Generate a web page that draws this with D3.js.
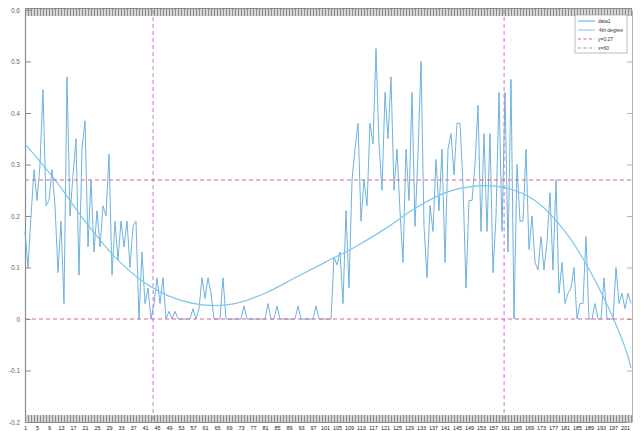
<!DOCTYPE html>
<html>
<head>
<meta charset="utf-8">
<script src="https://cdn.jsdelivr.net/npm/d3@7"></script>
<style>
  html, body { margin: 0; padding: 0; background: #ffffff; overflow: hidden; }
  svg { display: block; font-family: "Liberation Sans", "DejaVu Sans", sans-serif; }
</style>
</head>
<body>
<svg id="chart" width="642" height="431"></svg>
<script>
// Measured signal, one value per sample index
const signal = [
  0.17,0.10,0.20,0.29,0.23,0.30,0.445,0.22,0.23,0.29,
  0.22,0.09,0.19,0.03,0.47,0.20,0.28,0.35,0.085,0.33,
  0.385,0.14,0.27,0.13,0.21,0.14,0.22,0.20,0.32,0.085,
  0.19,0.115,0.19,0.14,0.19,0.10,0.18,0.19,0.0,0.13,
  0.03,0.06,0.0,
  0.03,0.08,0.03,0.08,0.0,0.015,0.0,0.015,0.0,0.0,
  0.0,0.0,0.0,0.02,0.0,0.02,0.08,0.04,0.08,0.05,
  0.0,0.0,0.0,0.08,0.0,0.0,0.0,0.0,0.0,0.0,
  0.025,0.0,0.0,0.0,0.0,0.0,0.0,0.0,0.03,0.0,
  0.0,0.025,0.0,0.0,0.0,0.0,0.0,0.0,0.025,0.0,
  0.0,0.0,0.0,0.0,0.025,0.0,0.0,0.0,0.0,0.0,
  0.12,
  0.105,0.13,0.03,0.21,0.06,0.27,0.33,0.38,0.19,0.27,
  0.22,0.38,0.34,0.525,0.34,0.25,0.44,0.35,0.47,0.25,
  0.33,0.21,0.11,0.33,0.23,0.44,0.18,0.32,0.50,0.18,
  0.08,0.22,0.17,0.31,0.21,0.33,0.11,0.33,0.36,0.28,
  0.38,0.38,0.26,0.06,0.23,0.23,0.30,0.415,0.17,0.36,
  0.17,0.36,0.09,0.20,0.44,0.17,0.44,0.13,0.465,0.0,
  0.30,0.19,0.19,0.33,0.135,0.20,0.11,0.095,0.16,0.095,
  0.15,0.245,0.095,0.27,0.05,0.11,0.03,0.05,0.06,0.10,
  0.0,0.03,0.03,0.16,0.0,0.0,0.03,0.0,0.0,0.08,
  0.0,0.0,0.0,0.10,0.03,0.05,0.02,0.05,0.03
];

// 4th degree polynomial fit, sampled at these indices
const fitIndex = [0,10,20,30,40,50,60,70,80,90,100,110,120,130,140,150,160,170,180,190,200,202];
const fitValue = [0.34,0.27,0.19,0.12,0.07,0.04,0.027,0.03,0.05,0.08,0.11,0.14,0.175,0.215,0.245,0.258,0.255,0.23,0.17,0.075,-0.055,-0.095];

// Reference lines
const hLines = [0.27, 0.0];
const vLines = [42.7, 159.7];

// Axis ticks
const yTicks = [-0.2,-0.1,0,0.1,0.2,0.3,0.4,0.5,0.6];
const yTickLabels = ["-0.2","-0.1","0","0.1","0.2","0.3","0.4","0.5","0.6"];
const xLabelStep = 4;

const legendLabels = ["data1", "4th degree", "y=0.27", "x=60"];

const svg = d3.select("#chart");
const plotLeft = 25, plotRight = 631, plotTop = 10, plotBottom = 422;

const x = d3.scaleLinear().domain([0, signal.length - 1]).range([plotLeft, plotRight]);
const y = d3.scaleLinear().domain([-0.2, 0.6]).range([plotBottom, plotTop]);

const axisColor = "#8c8c8c";
const dataColor = "#5fa9db";
const fitColor = "#7fc6ea";
const hColor = "#e0608a";
const vColor = "#cc72d6";

const idx = d3.range(signal.length);

// shaded strips behind the crowded tick marks
svg.append("rect").attr("x", plotLeft).attr("y", plotTop - 2).attr("width", plotRight - plotLeft).attr("height", 8).attr("fill", "#d6d6d6");
svg.append("rect").attr("x", plotLeft).attr("y", plotBottom - 7).attr("width", plotRight - plotLeft).attr("height", 7).attr("fill", "#d6d6d6");

// top axis: dense inward ticks
const topAxis = svg.append("g").attr("transform", `translate(0,${plotTop - 2})`)
  .call(d3.axisTop(x).tickValues(idx).tickSizeInner(-8).tickSizeOuter(0).tickFormat(""));
topAxis.selectAll("line").attr("stroke", "#8a8a8a");
topAxis.select(".domain").attr("stroke", axisColor);

// bottom axis: dense inward ticks, labels on every few samples
const botAxis = svg.append("g").attr("transform", `translate(0,${plotBottom})`)
  .call(d3.axisBottom(x).tickValues(idx).tickSizeInner(-7).tickSizeOuter(0).tickPadding(5)
    .tickFormat(d => (d % xLabelStep === 0 ? String(d + 1) : "")));
botAxis.selectAll("line").attr("stroke", "#8a8a8a");
botAxis.select(".domain").attr("stroke", axisColor);
botAxis.selectAll("text").attr("font-size", 5.5).attr("fill", "#222").attr("dy", "0.5em");

// left axis
const leftAxis = svg.append("g").attr("transform", `translate(${plotLeft},0)`)
  .call(d3.axisLeft(y).tickValues(yTicks).tickSizeInner(-6).tickSizeOuter(0).tickPadding(5)
    .tickFormat((d, i) => yTickLabels[i]));
leftAxis.select(".domain").attr("stroke", axisColor).attr("stroke-width", 1.2);
leftAxis.selectAll("line").attr("stroke", axisColor);
leftAxis.selectAll("text").attr("font-size", 6.5).attr("fill", "#666");

// right axis
const rightAxis = svg.append("g").attr("transform", `translate(${plotRight + 1},0)`)
  .call(d3.axisRight(y).tickValues(yTicks).tickSizeInner(-5).tickSizeOuter(0).tickFormat(""));
rightAxis.select(".domain").attr("stroke", "#b0b0b0");
rightAxis.selectAll("line").attr("stroke", "#b0b0b0");

const plot = svg.append("g");

// measured signal
plot.append("path")
  .datum(signal)
  .attr("fill", "none")
  .attr("stroke", dataColor)
  .attr("stroke-width", 0.9)
  .attr("d", d3.line().x((d, i) => x(i)).y(d => y(d)));

// fitted curve
plot.append("path")
  .datum(fitIndex.map((v, i) => [v, fitValue[i]]))
  .attr("fill", "none")
  .attr("stroke", fitColor)
  .attr("stroke-width", 1.2)
  .attr("d", d3.line().x(d => x(d[0])).y(d => y(d[1])).curve(d3.curveCatmullRom));

// horizontal reference lines
plot.selectAll(".hline").data(hLines).enter().append("line")
  .attr("x1", plotLeft).attr("x2", plotRight)
  .attr("y1", d => y(d)).attr("y2", d => y(d))
  .attr("stroke", hColor).attr("stroke-width", 1).attr("stroke-dasharray", "4,3");

// vertical reference lines
plot.selectAll(".vline").data(vLines).enter().append("line")
  .attr("x1", d => x(d)).attr("x2", d => x(d))
  .attr("y1", plotTop).attr("y2", plotBottom)
  .attr("stroke", vColor).attr("stroke-width", 1).attr("stroke-dasharray", "4,3");

// legend
const lg = svg.append("g").attr("transform", "translate(575,15)");
lg.append("rect").attr("width", 52).attr("height", 38).attr("fill", "#fff").attr("stroke", "#aaa").attr("stroke-width", 0.8);
const legendStyles = [
  { color: dataColor, dash: null },
  { color: fitColor, dash: null },
  { color: hColor, dash: "3,2.5" },
  { color: vColor, dash: "3,2.5" }
];
legendLabels.forEach((t, i) => {
  const yy = 6 + i * 9;
  lg.append("line").attr("x1", 3).attr("x2", 20).attr("y1", yy).attr("y2", yy)
    .attr("stroke", legendStyles[i].color).attr("stroke-width", 1)
    .attr("stroke-dasharray", legendStyles[i].dash);
  lg.append("text").attr("x", i === 1 ? 24 : 23).attr("y", yy + 2)
    .attr("font-size", 5).attr("fill", "#333").text(t);
});
</script>
</body>
</html>
